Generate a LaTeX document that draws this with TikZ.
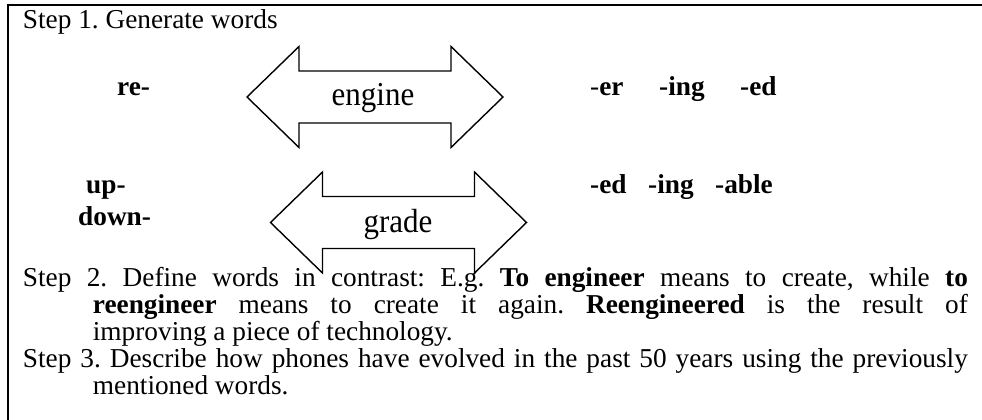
\documentclass[tikz,border=0pt]{standalone}
\usepackage{fontspec}
\setmainfont{Liberation Serif}
\usepackage{graphicx}
\usetikzlibrary{positioning}

\newcommand{\tallertxt}[1]{\scalebox{1}[1.08]{#1}}

\begin{document}
\begin{tikzpicture}[
  x=1pt, y=-1pt,
  frameline/.style = {line width=2pt},
  arrowline/.style = {line width=1.4pt, line join=miter},
  body/.style = {inner sep=0pt, anchor=base west, font=\fontsize{27.3}{27}\selectfont\frenchspacing},
  affix/.style = {body, font=\fontsize{27.3}{27}\selectfont\bfseries},
  root/.style = {inner sep=0pt, anchor=base, font=\fontsize{31}{36}\selectfont},
  twoway/.pic = {
    \draw[arrowline] (-128,0) -- (-76,-50.5) -- (-76,-26) -- (76,-26) -- (76,-50.5)
      -- (128,0) -- (76,50.5) -- (76,26) -- (-76,26) -- (-76,50.5) -- cycle;
  }
]
  \useasboundingbox (0,0) rectangle (982,420);

  % frame
  \coordinate (framebl) at (7.5,421);
  \coordinate (frametl) at (7.5,5.5);
  \coordinate (frametr) at (983,5.5);
  \draw[frameline] (framebl) -- (frametl) -- (frametr);

  % Step 1
  \node[body] (step1) at (22.7,29) {Step 1. Generate words};

  % prefixes
  \node[affix] (re) at (117,95) {re-};
  \node[affix] (up) at (86,193) {up-};
  \node[affix] (down) at (78,225) {down-};

  % roots in double arrows
  \pic at (375,97) {twoway};
  \node[root] (engine) at (373,105) {\tallertxt{engine}};
  \pic at (398.5,222.5) {twoway};
  \node[root] (grade) at (398,232.7) {\tallertxt{grade}};

  % suffixes
  \node[affix] (er) at (590,95) {\textmd{-}er};
  \node[affix] (ingA) at (659,95) {-ing};
  \node[affix] (edA) at (740,95) {-ed};
  \node[affix] (edB) at (590,193) {-ed};
  \node[affix] (ingB) at (648,193) {-ing};
  \node[affix] (able) at (715,193) {-able};

  % Step 2 and Step 3
  \node[body] (steps) at (22.7,286) {\parbox[t]{945pt}{\tolerance=9999
    \hangindent=70pt\hangafter=1
    Step 2. Define words in contrast: E.g. \textbf{To engineer} means to create, while \textbf{to}\linebreak
    \textbf{reengineer} means to create it again. \textbf{Reengineered} is the result of\linebreak
    improving a piece of technology.\par
    \hangindent=70pt\hangafter=1
    Step 3. Describe how phones have evolved in the past 50 years using the previously\linebreak
    mentioned words.}};
\end{tikzpicture}
\end{document}
